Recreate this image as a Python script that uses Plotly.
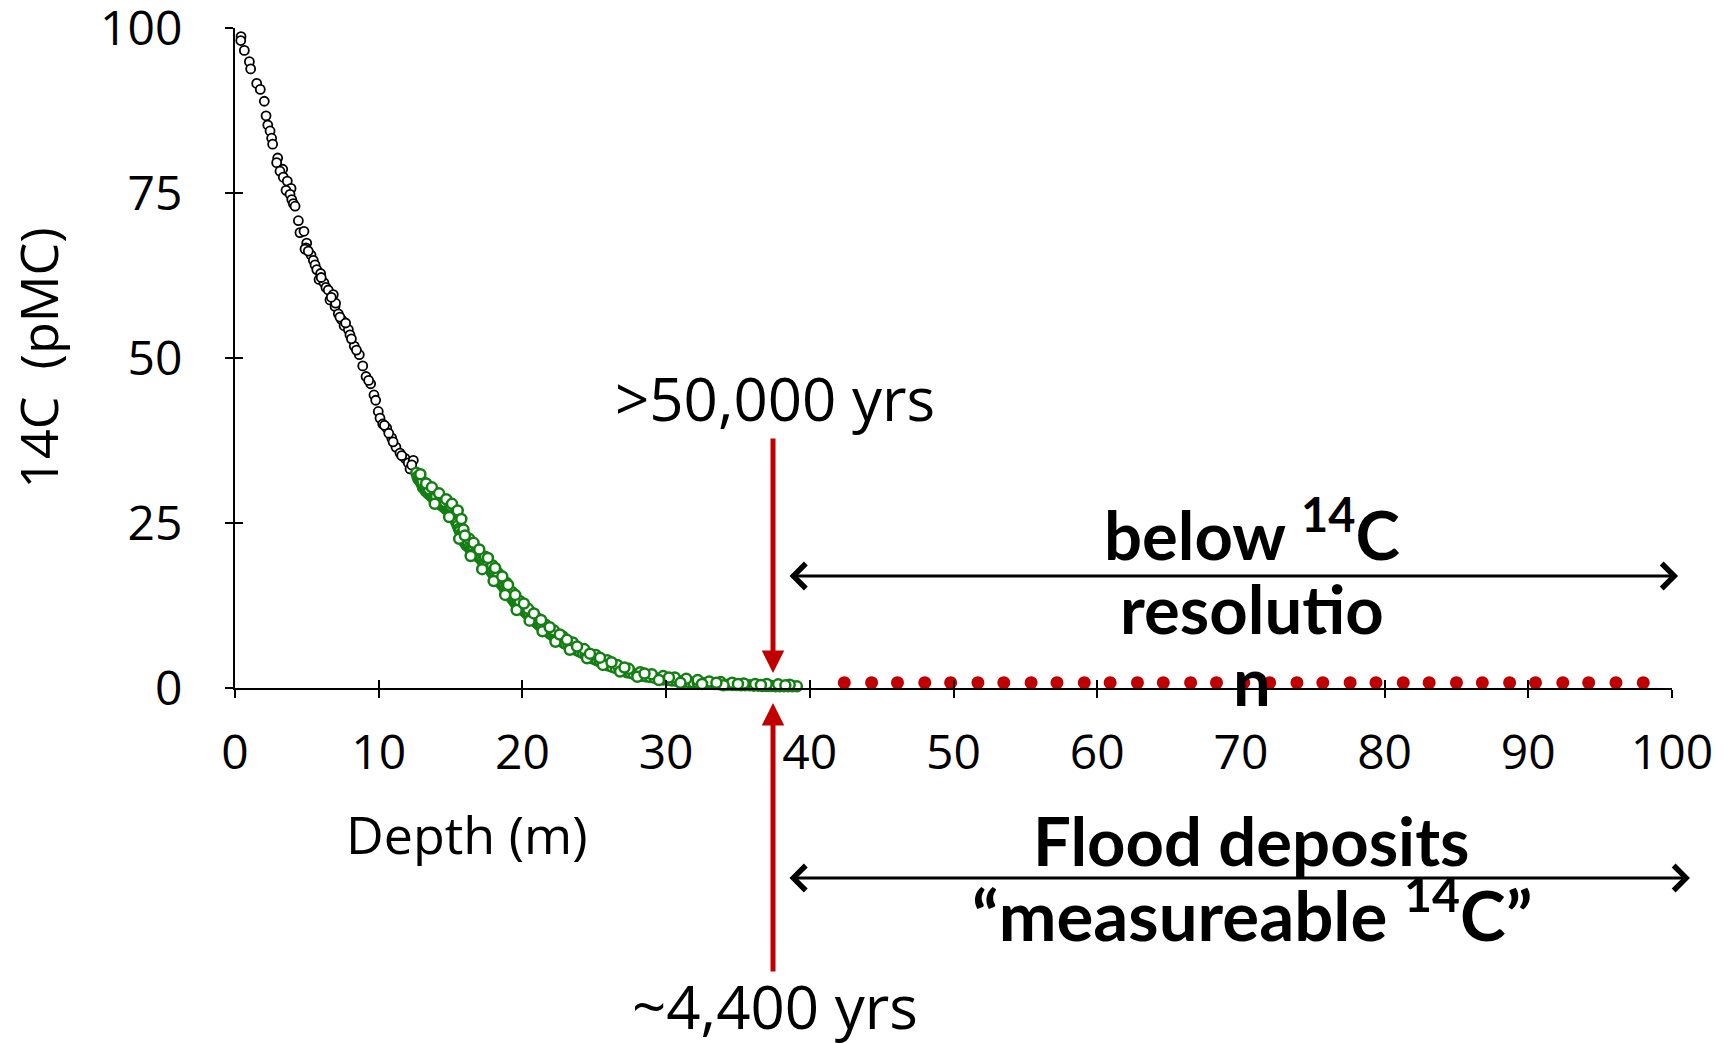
import plotly.graph_objects as go

# ---------------- data ----------------
black_x = [0.42, 0.40, 0.65, 1.00, 1.09, 1.51, 1.76, 2.04, 2.16, 2.28, 2.44, 2.55, 2.62, 2.97,
           2.90, 3.32, 3.13, 3.36, 3.64, 3.90, 3.55, 3.83, 3.95, 4.06, 4.18, 4.41, 4.52, 4.80,
           4.99, 4.94, 4.87, 5.29, 5.45, 5.57, 5.69, 5.96, 5.85, 6.19, 6.33, 6.49, 6.84, 6.61,
           6.96, 7.19, 7.42, 7.59, 7.89, 8.00, 8.30, 8.65, 8.89, 9.12, 9.44, 9.67, 9.79, 9.97,
           10.09, 10.28, 10.56, 10.90, 11.20, 11.48, 11.83, 12.06, 12.41, 12.18,
           7.00, 7.30, 7.70, 8.10, 8.45, 9.30, 10.40, 10.70, 11.00, 11.60, 12.30, 5.10, 6.00, 6.70]
black_y = [98.7, 98.1, 96.6, 94.9, 93.8, 91.6, 90.7, 88.9, 86.7, 85.3, 84.4, 83.3, 82.4, 80.3,
           79.6, 78.6, 78.3, 77.4, 76.8, 75.7, 75.4, 74.8, 74.0, 73.4, 73.0, 70.8, 69.0, 69.2,
           67.4, 66.7, 66.5, 65.6, 64.8, 64.1, 63.4, 62.8, 61.9, 61.4, 60.7, 60.3, 59.6, 58.8,
           57.8, 56.7, 55.8, 54.9, 54.3, 53.5, 51.8, 50.5, 48.8, 47.2, 46.1, 44.4, 43.6, 41.9,
           40.9, 40.0, 39.4, 37.9, 36.5, 35.6, 34.8, 34.1, 34.5, 33.2,
           58.3, 56.2, 55.3, 52.9, 51.2, 46.6, 39.8, 38.6, 37.3, 35.2, 33.8, 66.2, 62.2, 59.2]

green_x = [12.62, 12.70, 12.78, 12.85, 12.93, 13.00, 13.08, 13.15, 13.22, 13.30, 13.38, 13.45,
           13.55, 13.62, 13.70, 13.80, 13.88, 13.95, 14.05, 14.12, 14.20, 14.30, 14.38, 14.45,
           14.55, 14.62, 14.70, 14.80, 14.88, 14.95, 15.05, 15.12, 15.20, 15.28, 15.35, 15.42,
           15.50, 15.58, 15.65, 15.72, 15.80, 15.88, 15.95, 16.05, 16.12, 16.20, 16.30, 16.40,
           16.50, 16.60, 16.70, 16.80, 16.90, 17.00, 17.10, 17.20, 17.30, 17.40, 17.50, 17.60,
           17.70, 17.80, 17.90, 18.00, 18.10, 18.20, 18.30, 18.40, 18.50, 18.60, 18.70, 18.80,
           18.90, 19.00, 19.10, 19.20, 19.30, 19.40, 19.50, 19.60, 19.70, 19.80, 19.90, 20.00,
           20.15, 20.30, 20.45, 20.60, 20.75, 20.90, 21.05, 21.20, 21.35, 21.50, 21.65, 21.80,
           21.95, 22.10, 22.25, 22.40, 22.55, 22.70, 22.85, 23.00, 23.20, 23.40, 23.60, 23.80,
           24.00, 24.20, 24.40, 24.60, 24.80, 25.00, 25.20, 25.40, 25.60, 25.80, 26.00, 26.25,
           26.50, 26.75, 27.00, 27.25, 27.50, 27.75, 28.00, 28.30, 28.60, 28.90, 29.20, 29.50,
           29.80, 30.10, 30.40, 30.70, 31.00, 31.30, 31.60, 31.90, 32.20, 32.50, 32.80, 33.10,
           33.40, 33.70, 34.00, 34.30, 34.60, 34.90, 35.20, 35.50, 35.80, 36.10, 36.40, 36.70,
           37.00, 37.30, 37.60, 37.90, 38.20, 38.50, 38.80, 39.10,
           13.05, 13.50, 14.00, 14.60, 15.00, 15.40, 15.90, 16.30, 16.90, 17.40, 17.90, 18.30,
           18.90, 19.30, 19.80, 20.40, 21.00, 21.60, 22.20, 22.80, 23.50, 24.30, 25.10, 25.90,
           26.60, 27.40, 28.20, 29.00, 29.80, 30.60, 31.40, 32.20, 33.00, 33.80, 34.60, 35.40,
           36.20, 37.00, 37.80, 38.60,
           13.90, 14.90, 15.60, 16.40, 17.20, 18.00, 18.80, 19.60, 20.50, 21.40, 22.30, 23.30,
           24.50, 25.60, 26.80, 28.00, 29.50, 31.00, 32.50, 34.00,
           12.90, 13.30, 13.70, 14.20, 14.70, 15.10, 15.50, 15.75, 16.00, 16.60, 17.00, 17.60,
           18.10, 18.60, 19.00, 19.50, 20.10, 20.80, 21.30, 21.90, 22.60, 23.10, 23.80, 24.70,
           25.40, 26.20, 27.10, 28.50, 30.20, 33.50, 35.00, 36.60, 38.30]
green_y = [32.6, 32.0, 31.6, 31.9, 31.2, 30.9, 30.4, 30.8, 30.1, 29.8, 30.0, 29.5,
           29.3, 29.6, 29.0, 28.8, 29.1, 28.5, 28.3, 28.6, 28.0, 27.8, 28.1, 27.6,
           27.4, 27.7, 27.1, 27.0, 27.3, 26.8, 26.6, 26.2, 26.4, 25.8, 25.4, 25.0,
           24.6, 24.1, 23.8, 23.3, 23.0, 22.6, 22.2, 22.0, 21.6, 21.8, 21.3, 21.0,
           20.8, 21.1, 20.5, 20.2, 19.9, 20.1, 19.6, 19.3, 19.0, 18.8, 18.5, 18.7,
           18.1, 17.8, 17.5, 17.2, 16.9, 16.6, 16.4, 16.1, 15.9, 15.6, 15.3, 15.0,
           14.7, 14.3, 14.0, 13.8, 13.5, 13.2, 12.9, 12.7, 12.5, 12.2, 12.0, 11.9,
           11.6, 11.3, 11.0, 10.7, 10.4, 10.1, 9.8, 9.5, 9.3, 9.0, 8.7, 8.5,
           8.2, 8.0, 7.8, 7.6, 7.4, 7.2, 6.9, 6.7, 6.5, 6.2, 5.9, 5.7,
           5.5, 5.3, 5.0, 4.8, 4.6, 4.4, 4.2, 4.0, 3.8, 3.6, 3.4, 3.2,
           3.0, 2.8, 2.6, 2.4, 2.3, 2.1, 2.0, 1.85, 1.75, 1.65, 1.55, 1.4,
           1.3, 1.25, 1.15, 1.1, 1.0, 0.95, 0.9, 0.85, 0.8, 0.75, 0.7, 0.65,
           0.6, 0.55, 0.5, 0.5, 0.45, 0.45, 0.4, 0.4, 0.4, 0.35, 0.35, 0.3,
           0.3, 0.3, 0.25, 0.25, 0.25, 0.25, 0.25, 0.25,
           31.3, 30.1, 29.0, 28.2, 27.6, 26.6, 24.0, 22.6, 21.0, 19.9, 18.6, 17.4,
           15.9, 14.5, 13.2, 12.0, 10.6, 9.6, 8.7, 7.8, 6.9, 5.9, 5.0, 4.2,
           3.5, 2.9, 2.4, 2.1, 1.8, 1.6, 1.4, 1.2, 1.0, 0.9, 0.8, 0.7,
           0.6, 0.6, 0.55, 0.5,
           27.9, 25.9, 22.6, 20.0, 18.0, 16.2, 14.1, 11.8, 10.2, 8.6, 7.0, 5.8,
           4.5, 3.5, 2.5, 1.7, 1.2, 0.8, 0.6, 0.4,
           32.4, 31.0, 30.4, 29.5, 28.6, 27.9, 26.9, 25.6, 23.1, 22.0, 21.0, 19.7,
           18.2, 16.9, 15.6, 14.1, 12.8, 11.3, 10.3, 9.2, 8.1, 7.3, 6.3, 5.2,
           4.6, 3.9, 3.1, 2.2, 1.6, 0.8, 0.6, 0.45, 0.4]

red_x = [42.4, 44.3, 46.1, 48.0, 49.8, 51.7, 53.5, 55.4, 57.2, 59.1, 60.9, 62.8, 64.6, 66.5,
         68.3, 70.2, 72.0, 73.9, 75.7, 77.6, 79.4, 81.3, 83.1, 85.0, 86.8, 88.7, 90.5, 92.4,
         94.2, 96.1, 98.0]
red_y = [0.8, 0.8, 0.8, 0.8, 0.8, 0.8, 0.8, 0.8, 0.8, 0.8, 0.8, 0.8, 0.8, 0.8,
         0.8, 0.8, 0.8, 0.8, 0.8, 0.8, 0.8, 0.8, 0.8, 0.8, 0.8, 0.8, 0.8, 0.8,
         0.8, 0.8, 0.8]

x_ticks = [0, 10, 20, 30, 40, 50, 60, 70, 80, 90, 100]
y_ticks = [0, 25, 50, 75, 100]

REG = "Open Sans"
BOLD = "Lato"
RED = "#C00000"
GREEN = "#137F13"

fig = go.Figure()
fig.add_trace(go.Scatter(x=black_x, y=black_y, mode="markers", cliponaxis=False,
                         marker=dict(size=9, color="white", line=dict(color="black", width=1.8)),
                         showlegend=False))
fig.add_trace(go.Scatter(x=green_x, y=green_y, mode="markers", cliponaxis=False,
                         marker=dict(size=10, color="white", line=dict(color=GREEN, width=2.5)),
                         showlegend=False))
fig.add_trace(go.Scatter(x=red_x, y=red_y, mode="markers", cliponaxis=False,
                         marker=dict(size=13, color=RED, line=dict(width=0)),
                         showlegend=False))
# dummy trace for the overlay axes that draw the inner half of the crossing ticks
fig.add_trace(go.Scatter(x=[None], y=[None], xaxis="x2", yaxis="y2", showlegend=False,
                         hoverinfo="skip"))

axis_common = dict(showgrid=False, zeroline=False, ticks="outside", ticklen=8, tickwidth=2,
                   tickcolor="black", showline=True, linecolor="black", linewidth=2,
                   ticklabeloverflow="allow",
                   tickfont=dict(family=REG, size=48, color="black"))

fig.update_layout(
    width=1734, height=1043,
    margin=dict(l=235, r=62, t=28, b=355, autoexpand=False),
    plot_bgcolor="white", paper_bgcolor="white",
    xaxis=dict(range=[0, 100], tickvals=x_ticks, ticklabelstandoff=13, automargin=False,
               **axis_common),
    yaxis=dict(range=[0, 100], tickvals=y_ticks, ticklabelstandoff=33, automargin=False,
               **axis_common),
    xaxis2=dict(range=[0, 100], tickvals=x_ticks, overlaying="x", anchor="y2", side="bottom",
                ticks="inside", ticklen=8, tickwidth=2, tickcolor="black",
                showticklabels=False, showgrid=False, zeroline=False, showline=False),
    yaxis2=dict(range=[0, 100], tickvals=y_ticks, overlaying="y", anchor="x2", side="left",
                ticks="inside", ticklen=8, tickwidth=2, tickcolor="black",
                showticklabels=False, showgrid=False, zeroline=False, showline=False),
)

C = dict(xanchor="center", yanchor="middle", xref="paper", yref="paper")
ann = []
# axis titles
ann.append(dict(text="Depth (m)", x=0.1614, y=-0.2212, showarrow=False,
                font=dict(family=REG, size=52, color="black"), **C))
ann.append(dict(text="14C  (pMC)", x=-0.138, y=0.5, textangle=-90, showarrow=False,
                font=dict(family=REG, size=52, color="black"), **C))
# red arrows
ann.append(dict(text="", x=0.3744, y=0.0227, ax=0, ay=-236, showarrow=True, arrowhead=2,
                arrowsize=0.9, arrowwidth=5, arrowcolor=RED, **C))
ann.append(dict(text="", x=0.3744, y=-0.0227, ax=0, ay=270, showarrow=True, arrowhead=2,
                arrowsize=0.9, arrowwidth=5, arrowcolor=RED, **C))
# black double arrows
ann.append(dict(text="", x=1.0042, y=0.1697, ax=-890, ay=0, showarrow=True, arrowhead=4,
                startarrowhead=4, arrowside="end+start", arrowsize=1.6, startarrowsize=1.6,
                arrowwidth=3, arrowcolor="black", **C))
ann.append(dict(text="", x=1.0125, y=-0.2879, ax=-902, ay=0, showarrow=True, arrowhead=4,
                startarrowhead=4, arrowside="end+start", arrowsize=1.6, startarrowsize=1.6,
                arrowwidth=3, arrowcolor="black", **C))
# age labels
ann.append(dict(text=">50,000 yrs", x=0.3758, y=0.439, showarrow=False,
                font=dict(family=REG, size=60, color="black"), **C))
ann.append(dict(text="~4,400 yrs", x=0.3758, y=-0.482, showarrow=False,
                font=dict(family=REG, size=60, color="black"), **C))
# bold labels
bold = dict(family=BOLD, size=67, color="black", weight="bold")
bold2 = dict(family=BOLD, size=69, color="black", weight="bold")
ann.append(dict(text="below <sup>14</sup>C", x=0.7077, y=0.2390, showarrow=False, font=bold, **C))
ann.append(dict(text="resolutio", x=0.7077, y=0.1212, showarrow=False, font=bold, **C))
ann.append(dict(text="n", x=0.7077, y=0.0126, showarrow=False, font=bold, **C))
ann.append(dict(text="Flood deposits", x=0.7077, y=-0.2303, showarrow=False, font=bold, **C))
ann.append(dict(text="\u201cmeasureable <sup>14</sup>C\u201d", x=0.7077, y=-0.3364,
                showarrow=False, font=bold2, **C))
fig.update_layout(annotations=ann)

fig.write_html("out.html", config={"displayModeBar": False},
               post_script="document.body.style.margin='0px';")
